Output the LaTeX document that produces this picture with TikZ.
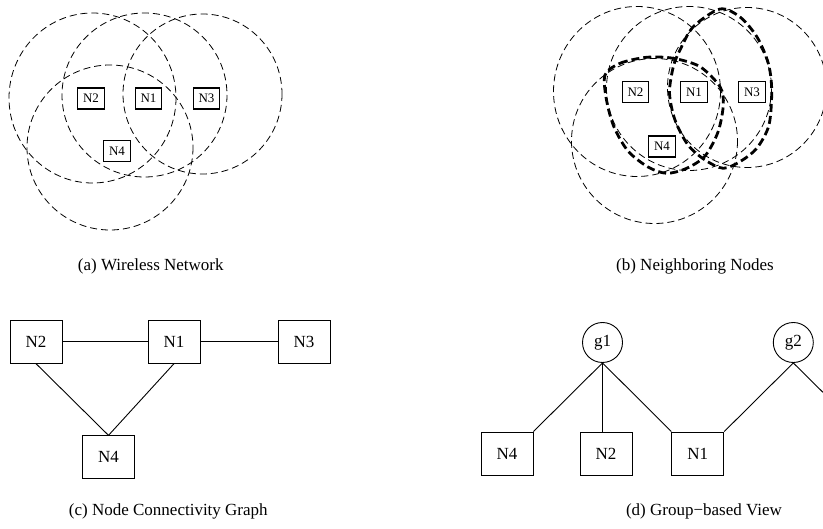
\documentclass[tikz,border=0pt]{standalone}
\usepackage{fontspec}
\setmainfont{Liberation Serif}
\begin{document}
\begin{tikzpicture}[x=1pt,y=-1pt,
    radiorange/.style={dash pattern=on 7pt off 4pt, line width=0.8pt},
    nbrset/.style={dash pattern=on 8pt off 4pt, line width=2.8pt},
    smallbox/.style={draw, line width=1.1pt, minimum width=26.5pt, minimum height=21pt,
      inner sep=0pt, font=\fontsize{13}{15}\selectfont},
    bigbox/.style={draw, line width=0.9pt, minimum width=52pt, minimum height=43pt,
      inner sep=0pt, font=\fontsize{17}{20}\selectfont},
    grpnode/.style={draw, circle, line width=0.9pt, minimum size=40pt,
      inner sep=0pt, font=\fontsize{17}{20}\selectfont},
    captext/.style={anchor=base, font=\fontsize{17}{20}\selectfont}]
  \clip (0,0) rectangle (823,529);

  % radio ranges, (a) and shifted copy for (b)
  \foreach \dx/\dy in {0/0, 544.5/-6.5} {
    \begin{scope}[shift={(\dx,\dy)}]
      \draw[radiorange] (92.5,98) ellipse [x radius=83.5, y radius=85];
      \draw[radiorange] (144.5,95) ellipse [x radius=82.5, y radius=82];
      \draw[radiorange] (202.5,94) ellipse [x radius=79.5, y radius=80];
      \draw[radiorange] (110,147.5) ellipse [x radius=83, y radius=82.5];
    \end{scope}
  }

  % (a) wireless network
  \node[smallbox] (a2) at (91,98.5) {N2};
  \node[smallbox] (a1) at (148.5,98.5) {N1};
  \node[smallbox] (a3) at (206.5,98.5) {N3};
  \node[smallbox] (a4) at (117,151) {N4};
  \node[captext] (capa) at (150.8,270.5) {(a) Wireless Network};

  % (b) neighboring nodes
  \draw[nbrset] plot[smooth cycle] coordinates {(605,75) (620,63.3) (646.7,57.3)
    (673.3,58.3) (700,66.7) (720,86.7) (723.3,105) (718,132) (705,156)
    (686.7,168.3) (666.7,173.3) (648,167) (628,151) (614,127) (606.5,100)};
  \draw[nbrset] plot[smooth cycle] coordinates {(720,9) (740,17) (757,37)
    (768.3,63.3) (771.7,90) (769,125) (757,148) (741,161) (723.3,168.3)
    (705,160) (688,145) (675,120) (669.5,93) (673.3,66.7) (680,50) (693.3,26.7)};
  \node[smallbox] (b2) at (635.5,92) {N2};
  \node[smallbox] (b1) at (694,92) {N1};
  \node[smallbox] (b3) at (752,92) {N3};
  \node[smallbox] (b4) at (662,146.5) {N4};
  \node[captext] (capb) at (695,270.5) {(b) Neighboring Nodes};

  % (c) node connectivity graph
  \node[bigbox] (c2) at (36,341.7) {N2};
  \node[bigbox] (c1) at (174,341.7) {N1};
  \node[bigbox] (c3) at (304,341.7) {N3};
  \node[bigbox] (c4) at (108.5,457.3) {N4};
  \begin{scope}[line width=0.9pt]
    \draw (c2) to (c1);
    \draw (c1) to (c3);
    \draw (c2.south) to (c4.north);
    \draw (c1.south) to (c4.north);
  \end{scope}
  \node[captext] (capc) at (168.3,515.5) {(c) Node Connectivity Graph};

  % (d) group-based view
  \node[grpnode] (g1) at (602.5,342.5) {g1};
  \node[grpnode] (g2) at (793.3,342.5) {g2};
  \node[bigbox] (d4) at (507,453.5) {N4};
  \node[bigbox] (d2) at (606,453.5) {N2};
  \node[bigbox] (d1) at (697.8,453.5) {N1};
  \coordinate (g2out) at (840,409.2);
  \begin{scope}[line width=0.9pt]
    \draw (g1.south) to (d4.north east);
    \draw (g1.south) to (g1.south |- d2.north);
    \draw (g1.south) to (d1.north west);
    \draw (g2.south) to (d1.north east);
    \draw (g2.south) to (g2out);
  \end{scope}
  \node[captext] (capd) at (704,515.5) {(d) Group−based View};
\end{tikzpicture}
\end{document}
